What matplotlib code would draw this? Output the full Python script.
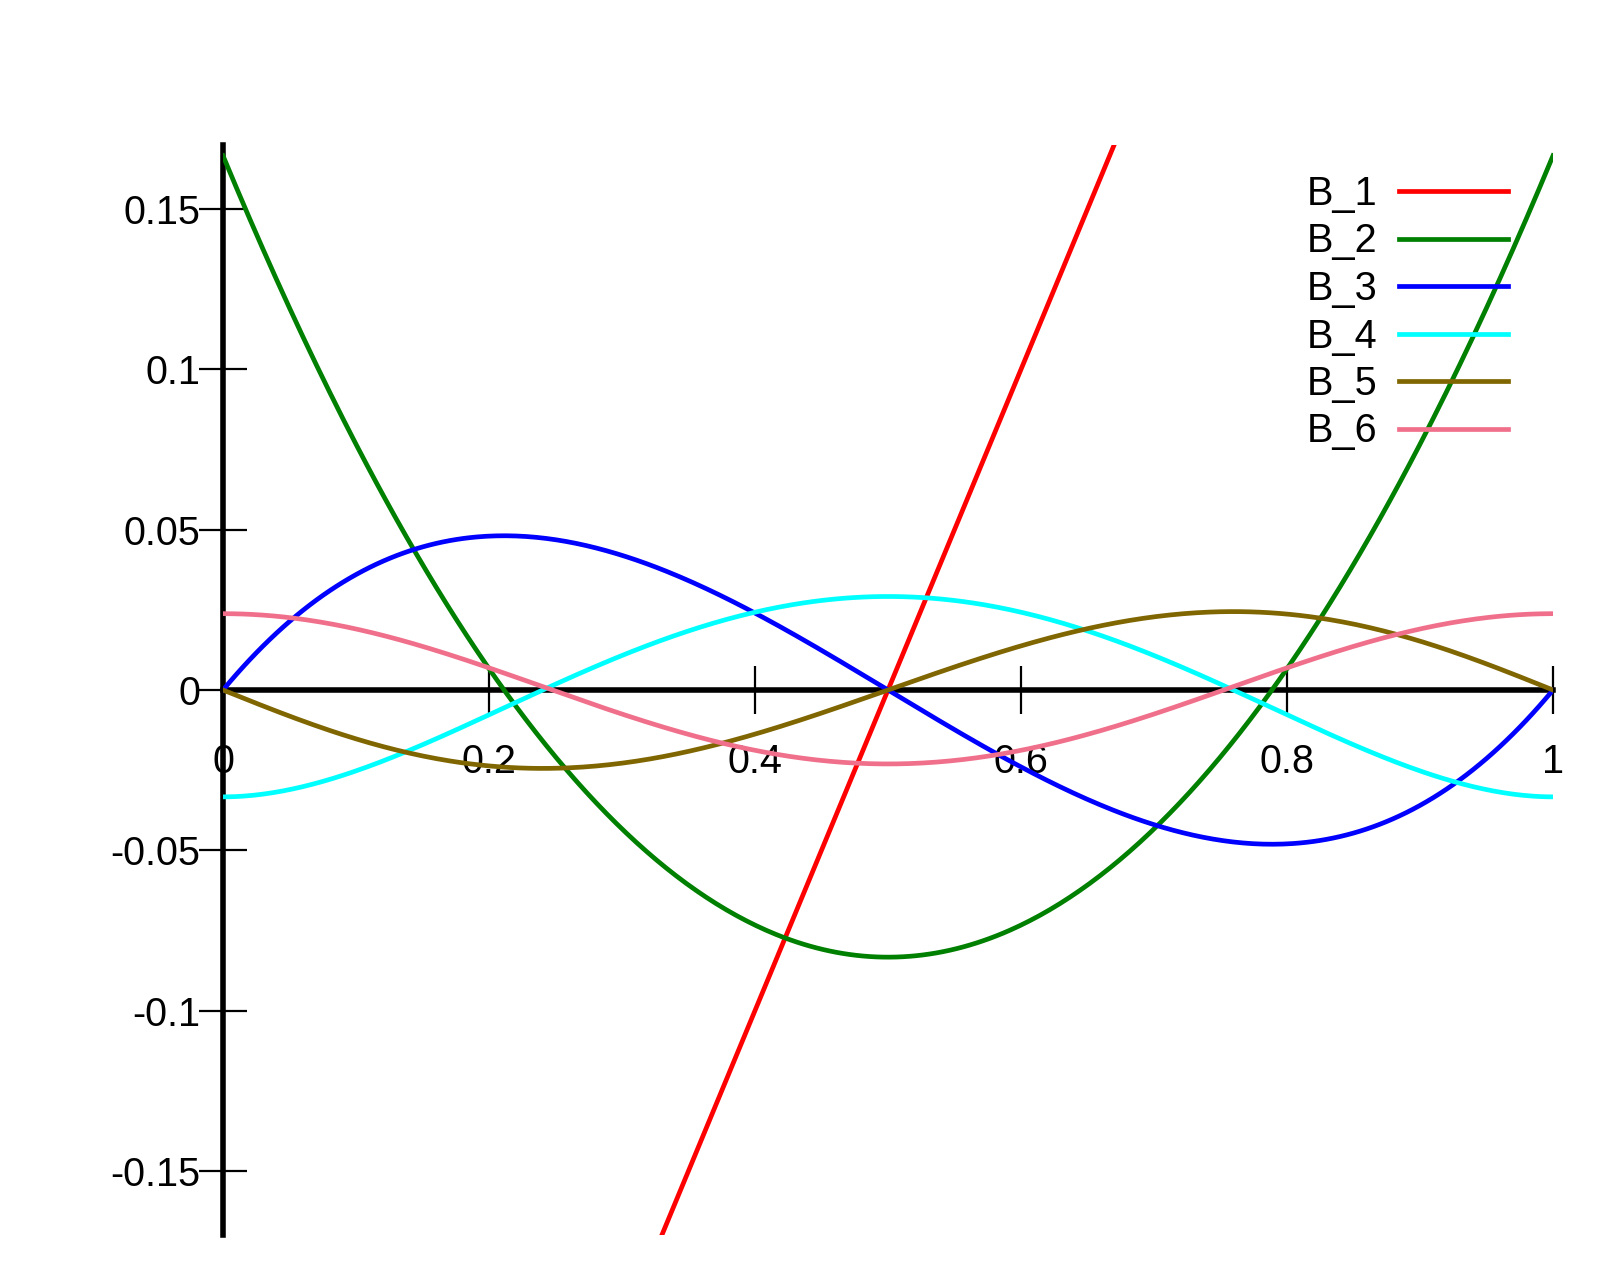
import numpy as np
import matplotlib
matplotlib.use("Agg")
import matplotlib.pyplot as plt

plt.rcParams["font.family"] = ["Liberation Sans", "DejaVu Sans"]

# Bernoulli polynomial coefficients (highest power first)
labels = ["B_1", "B_2", "B_3", "B_4", "B_5", "B_6"]
coeffs_b1 = [1, -0.5]
coeffs_b2 = [1, -1, 1 / 6]
coeffs_b3 = [1, -1.5, 0.5, 0]
coeffs_b4 = [1, -2, 1, 0, -1 / 30]
coeffs_b5 = [1, -2.5, 5 / 3, 0, -1 / 6, 0]
coeffs_b6 = [1, -3, 2.5, 0, -0.5, 0, 1 / 42]
colors = ["#ff0000", "#008000", "#0000ff", "#00ffff", "#806600", "#f0708c"]

xticks = [0, 0.2, 0.4, 0.6, 0.8, 1]
xticklabels = ["0", "0.2", "0.4", "0.6", "0.8", "1"]
yticks = [-0.15, -0.1, -0.05, 0, 0.05, 0.1, 0.15]
yticklabels = ["-0.15", "-0.1", "-0.05", "0", "0.05", "0.1", "0.15"]

fig = plt.figure(figsize=(16, 12.8), dpi=100)
ax = fig.add_axes([223 / 1600, 1 - 1235 / 1280, (1553 - 223) / 1600, (1235 - 145) / 1280])

x = np.linspace(0, 1, 400)
all_coeffs = [coeffs_b1, coeffs_b2, coeffs_b3, coeffs_b4, coeffs_b5, coeffs_b6]
for c, lab, col in zip(all_coeffs, labels, colors):
    ax.plot(x, np.polyval(c, x), color=col, lw=3.4, label=lab, zorder=3)

ax.set_xlim(0, 1)
ax.set_ylim(-0.17, 0.17)

for side in ["top", "right"]:
    ax.spines[side].set_visible(False)
ax.spines["left"].set_position(("data", 0))
ax.spines["bottom"].set_position(("data", 0))
ax.spines["left"].set_linewidth(4)
ax.spines["bottom"].set_linewidth(4)
ax.spines["left"].set_zorder(1)
ax.spines["bottom"].set_zorder(1)

ax.set_xticks(xticks)
ax.set_xticklabels(xticklabels)
ax.set_yticks(yticks)
ax.set_yticklabels(yticklabels)
ax.tick_params(axis="x", direction="inout", length=34, width=1.6, pad=21, labelsize=28.5)
ax.tick_params(axis="y", direction="inout", length=34, width=1.6, pad=-0.8, labelsize=28.5)

ax.legend(loc="upper right", bbox_to_anchor=(1508 / 1600, 1 - 175 / 1280),
          bbox_transform=fig.transFigure, frameon=False, markerfirst=False,
          fontsize=28.5, handlelength=2.75, handletextpad=0.55, labelspacing=0.24,
          borderpad=0, borderaxespad=0)

plt.savefig("out.png", dpi=100)
